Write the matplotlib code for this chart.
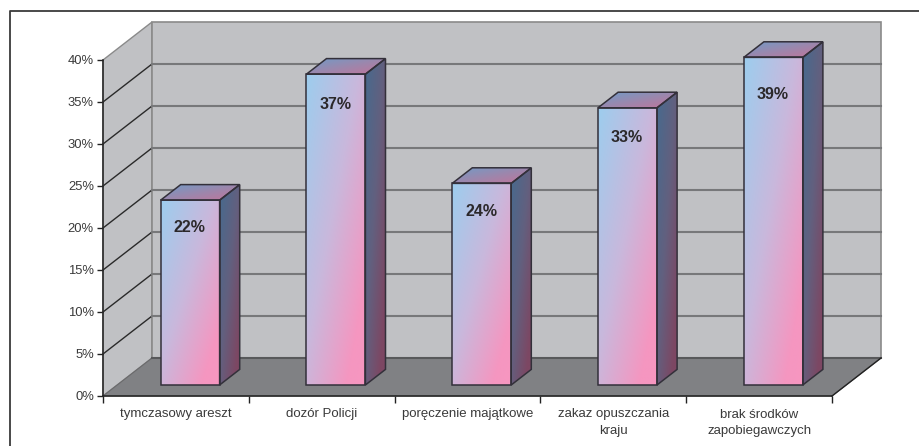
import matplotlib
matplotlib.use("Agg")
import matplotlib.pyplot as plt
import numpy as np
from matplotlib.patches import Polygon
from matplotlib.colors import LinearSegmentedColormap

categories = ["tymczasowy areszt", "dozór Policji", "poręczenie majątkowe",
              "zakaz opuszczania\nkraju", "brak środków\nzapobiegawczych"]
values = [22, 37, 24, 33, 39]
y_ticks = [0, 5, 10, 15, 20, 25, 30, 35, 40]
label_drop = [19.5, 21.5, 20, 21.5, 27]  # points below the bar top

W, H = 920, 446
# depth of the "3d" box, in data units
depth_x = 49 / 145.8
depth_y = 38 / 8.4
bar_w = 59 / 145.8
d_start, d_stop = 0.29, 0.70


def shift(x, y, d):
    return x + d * depth_x, y + d * depth_y


def grad_face(ax, pts, cmap):
    # gradient image clipped to a polygon, in data coords
    pts = np.array(pts)
    x0, x1 = pts[:, 0].min(), pts[:, 0].max()
    y0, y1 = pts[:, 1].min(), pts[:, 1].max()
    u, v = np.meshgrid(np.linspace(0, 1, 80), np.linspace(0, 1, 160))
    t = 0.5 * u + 0.5 * v
    im = ax.imshow(t, extent=(x0, x1, y0, y1), origin="upper", cmap=cmap, vmin=0, vmax=1,
                   aspect="auto", zorder=5, interpolation="bilinear")
    poly = Polygon(pts, closed=True, facecolor="none", edgecolor="#33303a", lw=1.1, zorder=6, clip_on=False)
    ax.add_patch(poly)
    im.set_clip_path(poly)
    im.set_clip_box(fig.bbox)


fig = plt.figure(figsize=(W / 100, H / 100), dpi=100, facecolor="white")
plt.rcParams["font.family"] = ["Liberation Sans"]

# outer frame
frame = fig.add_axes([0, 0, 1, 1], facecolor="none")
frame.set_xlim(0, W)
frame.set_ylim(H, 0)
frame.axis("off")
frame.plot([10, 10, 925], [H, 11, 11], color="#3a3a3a", lw=1.3, clip_on=False)

# axes = front plane of the box
left, right, bottom, top = 103, 832, 396, 60
ax = fig.add_axes([left / W, 1 - bottom / H, (right - left) / W, (bottom - top) / H], facecolor="none")
ax.set_xlim(0, 5)
ax.set_ylim(0, 40)
for s in ["top", "right"]:
    ax.spines[s].set_visible(False)
for s in ["left", "bottom"]:
    ax.spines[s].set_color("#222222")
    ax.spines[s].set_linewidth(1.1)

# walls and floor
ax.add_patch(Polygon([(0, 0), (depth_x, depth_y), (depth_x, 40 + depth_y), (0, 40)], facecolor="#c0c1c4",
                     edgecolor="#8a8a8a", lw=1, clip_on=False, zorder=1))
ax.add_patch(Polygon([(depth_x, depth_y), (5 + depth_x, depth_y), (5 + depth_x, 40 + depth_y), (depth_x, 40 + depth_y)],
                     facecolor="#c0c1c4", edgecolor="#8a8a8a", lw=1.2, clip_on=False, zorder=1))
ax.add_patch(Polygon([(0, 0), (5, 0), (5 + depth_x, depth_y), (depth_x, depth_y)], facecolor="#808184",
                     edgecolor="#6a6a6c", lw=0.8, clip_on=False, zorder=2))
for tick in y_ticks:
    if 0 < tick < 40:
        ax.plot([0, depth_x], [tick, tick + depth_y], color="#2a2a2a", lw=1, clip_on=False, zorder=3)
        ax.plot([depth_x, 5 + depth_x], [tick + depth_y, tick + depth_y], color="#77787a", lw=1.5, clip_on=False, zorder=3)
ax.plot([depth_x, 5 + depth_x], [depth_y, depth_y], color="#58595b", lw=1.5, clip_on=False, zorder=3)
ax.plot([5, 5 + depth_x], [0, depth_y], color="#222222", lw=1, clip_on=False, zorder=3)

front_cm = LinearSegmentedColormap.from_list("f", [(0, "#9dcdee"), (0.45, "#c9b8dc"), (0.85, "#f596c0"), (1, "#f796c0")])
side_cm = LinearSegmentedColormap.from_list("s", [(0, "#476a8e"), (0.45, "#62607f"), (0.85, "#7d4763"), (1, "#7d4763")])
top_cm = LinearSegmentedColormap.from_list("t", ["#6f9cc8", "#9a88ae", "#c2749a"])

for i, (name, val) in enumerate(zip(categories, values)):
    x0 = i + 0.5 - bar_w / 2
    x1 = i + 0.5 + bar_w / 2
    a = [shift(x0, 0, d_start), shift(x1, 0, d_start), shift(x1, val, d_start), shift(x0, val, d_start)]
    b = [shift(x0, 0, d_stop), shift(x1, 0, d_stop), shift(x1, val, d_stop), shift(x0, val, d_stop)]
    grad_face(ax, [a[3], a[2], a[1], a[0]], front_cm)
    grad_face(ax, [a[2], b[2], b[1], a[1]], side_cm)
    grad_face(ax, [b[3], b[2], a[2], a[3]], top_cm)
    cx, cy = shift(i + 0.5, val, d_start)
    ax.annotate(f"{val}%", (cx, cy), xytext=(-0.5, -label_drop[i]), textcoords="offset points", ha="center", va="center",
                fontsize=11.5, fontweight="bold", color="#2b282a", zorder=8, annotation_clip=False)

ax.set_xticks(range(6))
ax.set_xticklabels([])
ax.set_xticks(np.arange(5) + 0.5, labels=categories, minor=True, linespacing=1.45)
ax.tick_params(axis="x", which="major", length=5, width=1, color="#222222")
ax.tick_params(axis="x", which="minor", length=0, pad=9, labelsize=9.5, labelcolor="#3a3a3a")
ax.set_yticks(y_ticks)
ax.set_yticklabels([f"{t}%" for t in y_ticks], fontsize=9.4, color="#3a3a3a")
ax.tick_params(axis="y", length=4.5, width=1, color="#222222", pad=2)
ax.set_xlim(0, 5)
ax.set_ylim(0, 40)

fig.savefig("out.png", dpi=100)
